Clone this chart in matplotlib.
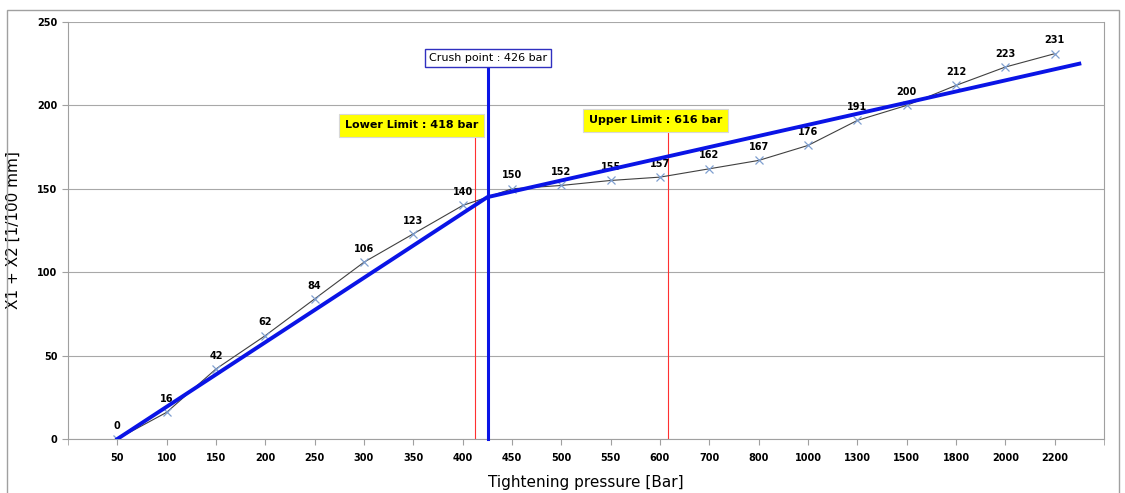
import numpy as np
import matplotlib.pyplot as plt
from matplotlib.patches import Rectangle

# 데이터
pressure = ['50', '100', '150', '200', '250', '300', '350', '400', '450', '500',
            '550', '600', '700', '800', '1000', '1300', '1500', '1800', '2000', '2200']
x1x2 = [0, 16, 42, 62, 84, 106, 123, 140, 150, 152,
        155, 157, 162, 167, 176, 191, 200, 212, 223, 231]

# 기울기 선 (카테고리 위치 기준)
fit_pos = [0, 7.5, 19.5]
fit_val = [0, 145, 225]

crush_bar = 426
lower_bar = 418
upper_bar = 616


def cat_pos(bar):  # 압력값 -> 카테고리 위치
    vals = [float(p) for p in pressure]
    return np.interp(bar, vals, np.arange(len(vals)))


plt.rcParams['font.family'] = ['DejaVu Sans']
fig = plt.figure(figsize=(11.25, 4.93), dpi=100)
ax = fig.add_axes([68 / 1125, 1 - 439 / 493, (1104 - 68) / 1125, (439 - 22) / 493])

fig.patches.append(Rectangle((7 / 1125, -0.1), (1119 - 7) / 1125, 1 - 10 / 493 + 0.1,
                             transform=fig.transFigure, fill=False, ec='#a0a0a0', lw=1))

x = np.arange(len(pressure))
ax.plot(x, x1x2, color='#404040', lw=0.8, marker='x', ms=6, mec='#7f9fd0', mew=0.9, zorder=3)
for xi, v in zip(x, x1x2):
    ax.annotate(str(v), (xi, v), xytext=(0, 6), textcoords='offset points',
                ha='center', va='bottom', fontsize=7, fontweight='bold')

ax.plot(fit_pos, fit_val, color='#0a14e6', lw=2.8, zorder=4)

# 세로선
cx = cat_pos(crush_bar)
lx = cat_pos(lower_bar) - 0.1
ux = cat_pos(upper_bar)
ax.plot([cx, cx], [0, 223], color='#0a14e6', lw=2.2, zorder=4, clip_on=False)
ax.plot([lx, lx], [0, 182], color='#ff3030', lw=0.8, zorder=2)
ax.plot([ux, ux], [0, 185], color='#ff3030', lw=0.8, zorder=2)

ax.text(cx, 228.5, 'Crush point : %d bar' % crush_bar, ha='center', va='center', fontsize=8,
        bbox=dict(boxstyle='square,pad=0.35', fc='white', ec='#3030c0', lw=1), zorder=5, clip_on=False)
ax.text(lx - 1.3, 188, 'Lower Limit : %d bar' % lower_bar, ha='center', va='center', fontsize=8,
        fontweight='bold', bbox=dict(boxstyle='square,pad=0.55', fc='#ffff00', ec='#d8d8d8', lw=0.8), zorder=5)
ax.text(ux - 0.25, 191, 'Upper Limit : %d bar' % upper_bar, ha='center', va='center', fontsize=8,
        fontweight='bold', bbox=dict(boxstyle='square,pad=0.55', fc='#ffff00', ec='#d8d8d8', lw=0.8), zorder=5)

ax.set_xlim(-1, 20)
ax.set_ylim(0, 250)
ax.set_xticks(x)
ax.set_xticklabels(pressure, fontsize=7, fontweight='bold')
ax.set_xticks(np.arange(-1, 21), minor=True)
ax.tick_params(axis='x', which='major', length=4, color='#a0a0a0', pad=6)
ax.tick_params(axis='x', which='minor', length=4, color='#a0a0a0')
ax.set_yticks([0, 50, 100, 150, 200, 250])
ax.tick_params(axis='y', length=4, color='#a0a0a0', labelsize=7)
for lb in ax.get_yticklabels():
    lb.set_fontweight('bold')
ax.grid(axis='y', color='#a8a8a8', lw=0.8)
ax.set_axisbelow(True)
for s in ['left', 'bottom']:
    ax.spines[s].set_color('#a0a0a0')
ax.spines['top'].set_visible(False)
ax.spines['right'].set_color('#a0a0a0')

ax.set_xlabel('Tightening pressure [Bar]', fontsize=11, labelpad=9)
ax.set_ylabel('X1 + X2 [1/100 mm]', fontsize=11, labelpad=12)

fig.savefig('out.png', dpi=100)
